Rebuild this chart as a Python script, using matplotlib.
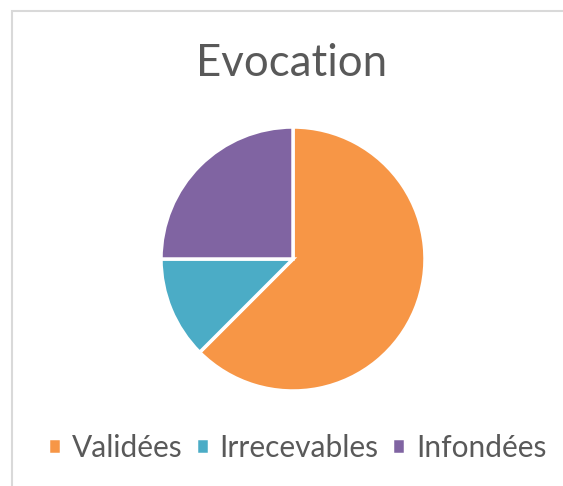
import matplotlib
matplotlib.use("Agg")
import matplotlib.pyplot as plt
from matplotlib.patches import Rectangle

labels = ["Validées", "Irrecevables", "Infondées"]
values = [5, 1, 2]
colors = ["#F79646", "#4BACC6", "#8064A2"]

W, H = 563, 486
fig = plt.figure(figsize=(W / 100, H / 100), dpi=100)
plt.rcParams['font.family'] = ['Lato', 'DejaVu Sans']

# chart frame (light grey border, left and top visible)
fig.patches.append(Rectangle((12 / W, -0.1), 1.2, 1 - 11 / H + 0.1,
                             transform=fig.transFigure, fill=False,
                             edgecolor="#d9d9d9", linewidth=1.5))

cx, cy, r = 293, 259, 132
ax = fig.add_axes([(cx - r) / W, (H - cy - r) / H, 2 * r / W, 2 * r / H])
wedges, _ = ax.pie(values, colors=colors, startangle=90, counterclock=False,
                   radius=1.0,
                   wedgeprops=dict(edgecolor="white", linewidth=2.5))
ax.set_xlim(-1, 1)
ax.set_ylim(-1, 1)
ax.set_aspect("equal")
ax.axis("off")

fig.text(292 / W, 1 - 63 / H, "Evocation", ha="center", va="center",
         fontsize=31.5, color="#595959")

fig.legend(wedges, labels, loc="center", bbox_to_anchor=(297 / W, 1 - 448 / H),
           ncol=3, frameon=False, fontsize=21.5, labelcolor="#595959",
           handlelength=0.45, handleheight=0.45, handletextpad=0.35,
           columnspacing=0.45, borderpad=0, borderaxespad=0)

fig.savefig("out.png", dpi=100)
